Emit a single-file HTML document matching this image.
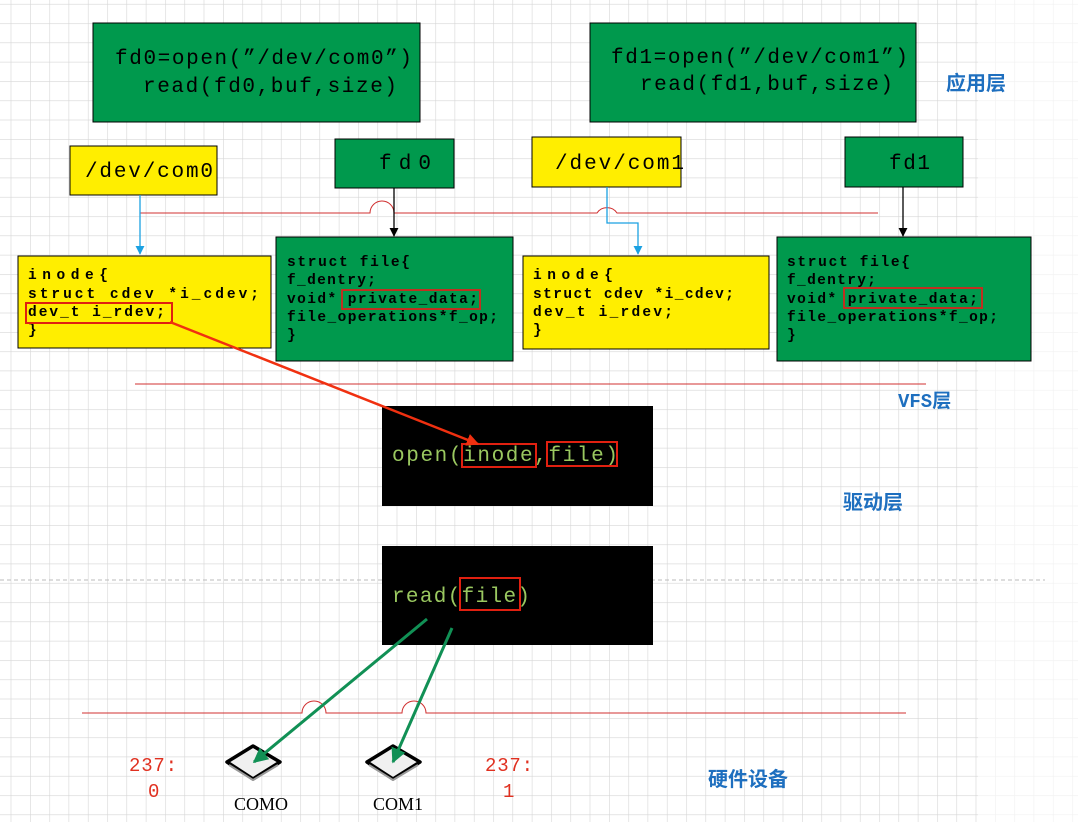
<!DOCTYPE html>
<html><head><meta charset="utf-8"><style>
html,body{margin:0;padding:0;background:#fff;}
svg{display:block;}
.m{font-family:"Liberation Mono","Noto Sans CJK SC",monospace;}
.c{font-family:"Noto Sans CJK SC","WenQuanYi Zen Hei",sans-serif;}
</style></head><body>
<svg width="1078" height="822" viewBox="0 0 1078 822" xmlns="http://www.w3.org/2000/svg">
<defs>
<pattern id="g" x="10.7" y="3.9" width="19.3" height="19.3" patternUnits="userSpaceOnUse">
<path d="M0 0H19.3M0 0V19.3" stroke="#d6d6d6" stroke-width="1.2" fill="none"/>
</pattern>
<marker id="ab" viewBox="0 0 10 10" refX="9" refY="5" markerWidth="7" markerHeight="7" orient="auto"><path d="M0 0L10 5L0 10z" fill="#000"/></marker>
<marker id="abl" viewBox="0 0 10 10" refX="9" refY="5" markerWidth="7" markerHeight="7" orient="auto"><path d="M0 0L10 5L0 10z" fill="#1ba1e2"/></marker>
<marker id="ar" viewBox="0 0 10 10" refX="9" refY="5" markerWidth="5" markerHeight="5" orient="auto"><path d="M0 0L10 5L0 10z" fill="#f03010"/></marker>
<marker id="ag" viewBox="0 0 10 10" refX="9" refY="5" markerWidth="5" markerHeight="5" orient="auto"><path d="M0 0L10 5L0 10z" fill="#119055"/></marker>
</defs>
<rect width="978" height="822" fill="url(#g)"/>
<rect x="978" width="100" height="822" fill="url(#g)" opacity="0.35"/>
<line x1="0" y1="580" x2="1045" y2="580" stroke="#bbb" stroke-dasharray="4 3"/>

<g class="m" font-size="21" fill="#000" lengthAdjust="spacing">
<rect x="93" y="23" width="327" height="99" fill="#00994d" stroke="#000"/>
<text x="115" y="64" textLength="297" lengthAdjust="spacing">fd0=open(”/dev/com0”)</text>
<text x="143" y="92" textLength="254" lengthAdjust="spacing">read(fd0,buf,size)</text>
<rect x="590" y="23" width="326" height="99" fill="#00994d" stroke="#000"/>
<text x="611" y="63" textLength="297" lengthAdjust="spacing">fd1=open(”/dev/com1”)</text>
<text x="640" y="90" textLength="253" lengthAdjust="spacing">read(fd1,buf,size)</text>

<rect x="70" y="146" width="147" height="49" fill="#ffee00" stroke="#000"/>
<text x="85" y="177" textLength="128" lengthAdjust="spacing">/dev/com0</text>
<rect x="335" y="139" width="119" height="49" fill="#00994d" stroke="#000"/>
<text x="379" y="169" textLength="52" lengthAdjust="spacing">fd0</text>
<rect x="532" y="137" width="149" height="50" fill="#ffee00" stroke="#000"/>
<text x="555" y="169" textLength="129" lengthAdjust="spacing">/dev/com1</text>
<rect x="845" y="137" width="118" height="50" fill="#00994d" stroke="#000"/>
<text x="889" y="169" textLength="41" lengthAdjust="spacing">fd1</text>
</g>
<text class="c" x="946" y="90" font-size="20" fill="#1e6fbf" font-weight="bold">应用层</text>

<path d="M140 213H370A12 12 0 0 1 394 213H597A12 12 0 0 1 617 213H878" fill="none" stroke="#d03030" stroke-width="1"/>
<line x1="140" y1="195" x2="140" y2="254" stroke="#1ba1e2" stroke-width="1.3" marker-end="url(#abl)"/>
<polyline points="607,187 607,223 638,223 638,254" fill="none" stroke="#1ba1e2" stroke-width="1.3" marker-end="url(#abl)"/>
<line x1="394" y1="188" x2="394" y2="236" stroke="#000" stroke-width="1.3" marker-end="url(#ab)"/>
<line x1="903" y1="187" x2="903" y2="236" stroke="#000" stroke-width="1.3" marker-end="url(#ab)"/>

<rect x="18" y="256" width="253" height="92" fill="#ffee00" stroke="#000"/>
<g class="m" font-size="14.5" fill="#000" font-weight="bold">
<text x="28" y="279" textLength="80" lengthAdjust="spacing">inode{</text>
<text x="28" y="298" textLength="231" lengthAdjust="spacing">struct cdev *i_cdev;</text>
<text x="28" y="316" textLength="137" lengthAdjust="spacing">dev_t  i_rdev;</text>
<text x="28" y="334">}</text>
</g>
<rect x="26" y="303" width="146" height="20" fill="none" stroke="#e02010" stroke-width="2"/>

<rect x="276" y="237" width="237" height="124" fill="#00994d" stroke="#000"/>
<g class="m" font-size="14.5" fill="#000" font-weight="bold">
<text x="287" y="266" textLength="123" lengthAdjust="spacing">struct file{</text>
<text x="287" y="284" textLength="89" lengthAdjust="spacing">f_dentry;</text>
<text x="287" y="303" textLength="191" lengthAdjust="spacing">void* private_data;</text>
<text x="287" y="321" textLength="211" lengthAdjust="spacing">file_operations*f_op;</text>
<text x="287" y="339">}</text>
</g>
<rect x="342" y="290" width="138" height="19" fill="none" stroke="#c03020" stroke-width="2"/>

<rect x="523" y="256" width="246" height="93" fill="#ffee00" stroke="#000"/>
<g class="m" font-size="14.5" fill="#000" font-weight="bold">
<text x="533" y="279" textLength="80" lengthAdjust="spacing">inode{</text>
<text x="533" y="298" textLength="201" lengthAdjust="spacing">struct cdev *i_cdev;</text>
<text x="533" y="316" textLength="140" lengthAdjust="spacing">dev_t  i_rdev;</text>
<text x="533" y="334">}</text>
</g>

<rect x="777" y="237" width="254" height="124" fill="#00994d" stroke="#000"/>
<g class="m" font-size="14.5" fill="#000" font-weight="bold">
<text x="787" y="266" textLength="123" lengthAdjust="spacing">struct file{</text>
<text x="787" y="284" textLength="89" lengthAdjust="spacing">f_dentry;</text>
<text x="787" y="303" textLength="191" lengthAdjust="spacing">void* private_data;</text>
<text x="787" y="321" textLength="211" lengthAdjust="spacing">file_operations*f_op;</text>
<text x="787" y="339">}</text>
</g>
<rect x="844" y="288" width="138" height="20" fill="none" stroke="#c03020" stroke-width="2"/>

<line x1="135" y1="384" x2="926" y2="384" stroke="#d03030" stroke-width="1"/>
<text class="m" x="898" y="407" font-size="19" fill="#1e6fbf" font-weight="bold">VFS<tspan class="c">层</tspan></text>

<rect x="382" y="406" width="271" height="100" fill="#000"/>
<text class="m" x="392" y="461" font-size="21" fill="#9ac860" textLength="226" lengthAdjust="spacing">open(inode,file)</text>
<rect x="462" y="444" width="74" height="23" fill="none" stroke="#e02010" stroke-width="2"/>
<rect x="547" y="442" width="70" height="24" fill="none" stroke="#e02010" stroke-width="2"/>
<text class="c" x="843" y="509" font-size="20" fill="#1e6fbf" font-weight="bold">驱动层</text>

<rect x="382" y="546" width="271" height="99" fill="#000"/>
<text class="m" x="392" y="602" font-size="21" fill="#9ac860" textLength="138" lengthAdjust="spacing">read(file)</text>
<rect x="460" y="578" width="60" height="32" fill="none" stroke="#e02010" stroke-width="2"/>

<line x1="170" y1="322" x2="478" y2="444" stroke="#f03010" stroke-width="2.5" marker-end="url(#ar)"/>

<path d="M82 713H302A12 12 0 0 1 326 713H402A12 12 0 0 1 426 713H906" fill="none" stroke="#d03030" stroke-width="1"/>

<g>
<path d="M227 762L253 746L280 762L253 779Z" fill="#f0f0f0" stroke="#000" stroke-width="3.5" stroke-linejoin="round"/>
<path d="M229 765L253 780L278 765" fill="none" stroke="#999" stroke-width="2"/>
<path d="M367 762L393 746L420 762L393 779Z" fill="#f0f0f0" stroke="#000" stroke-width="3.5" stroke-linejoin="round"/>
<path d="M369 765L393 780L418 765" fill="none" stroke="#999" stroke-width="2"/>
</g>
<line x1="427" y1="619" x2="254" y2="762" stroke="#119055" stroke-width="3" marker-end="url(#ag)"/>
<line x1="452" y1="628" x2="393" y2="762" stroke="#119055" stroke-width="3" marker-end="url(#ag)"/>

<text x="234" y="810" font-family="Liberation Serif,serif" font-size="18" fill="#000">COMO</text>
<text x="373" y="810" font-family="Liberation Serif,serif" font-size="18" fill="#000">COM1</text>
<text class="m" x="129" y="771" font-size="19" fill="#e03020" textLength="48" lengthAdjust="spacing">237:</text>
<text class="m" x="148" y="797" font-size="19" fill="#e03020">0</text>
<text class="m" x="485" y="771" font-size="19" fill="#e03020" textLength="48" lengthAdjust="spacing">237:</text>
<text class="m" x="503" y="797" font-size="19" fill="#e03020">1</text>
<text class="c" x="708" y="786" font-size="20" fill="#1e6fbf" font-weight="bold">硬件设备</text>
</svg>
</body></html>
